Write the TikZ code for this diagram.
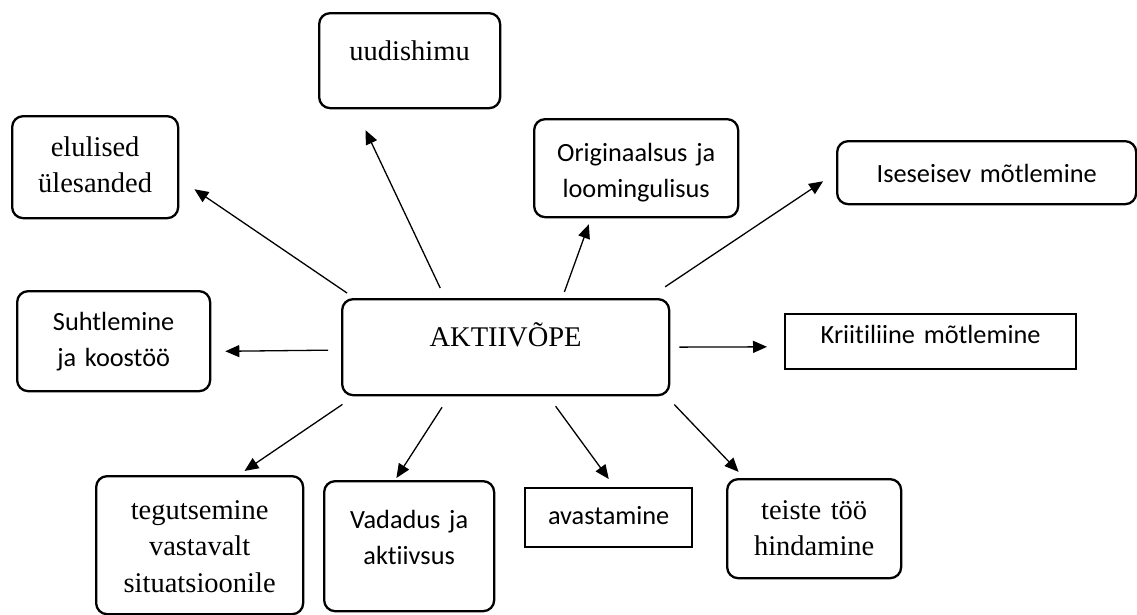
\documentclass[tikz,border=0pt]{standalone}
\usepackage{fontspec}
\setmainfont{Liberation Serif}
\newfontfamily\carlito[Ligatures=NoCommon]{Carlito}
\usetikzlibrary{arrows.meta}

\tikzset{
  pbox/.style={draw, line width=2.3pt, rounded corners=11pt, inner sep=0pt, align=center, anchor=north west},
  rbox/.style={draw, line width=2.3pt, inner sep=0pt, align=center, anchor=north west},
  tnr/.style={font=\fontsize{28.5}{36.5}\selectfont},
  cal/.style={font=\carlito\fontsize{26.3}{36.5}\selectfont},
  sz/.style n args={3}{text width=#1pt, text height=#2pt, text depth=#3pt},
  arr/.style={line width=1.3pt, -{Triangle[length=14pt,width=12pt]}}
}

\begin{document}
\begin{tikzpicture}[x=1pt, y=-1pt]
			%%%%% START %%%%%
			\useasboundingbox (0,0) rectangle (1137,614);
			
			\node[pbox, tnr, sz={327}{47}{49}] (main) at (341,298) {AKTIIVÕPE};
			
			\node[pbox, tnr, sz={181}{47}{48}] (uudi) at (318,12) {uudishimu};
			\node[pbox, tnr, sz={166}{40}{62}] (elul) at (11,115) {elulised\\ülesanded};
			\node[pbox, cal, sz={193}{39}{61}] (suht) at (16,290) {Suhtlemine\\ja koostöö};
			\node[pbox, cal, sz={204}{42}{56}] (orig) at (533,118) {Originaalsus ja\\loomingulisus};
			\node[pbox, cal, sz={299}{41}{22}] (isei) at (836,140) {Iseseisev mõtlemine};
			\node[rbox, cal, sz={291}{29}{26}] (krit) at (784,313) {Kriitiliine mõtlemine};
			
			\node[pbox, tnr, sz={207}{43}{95}] (tegu) at (95,475) {tegutsemine\\vastavalt\\situatsioonile};
			\node[pbox, cal, sz={170}{47}{83}] (vada) at (323,480) {Vadadus ja\\aktiivsus};
			\node[rbox, cal, sz={167}{36}{23}] (avas) at (524,487) {avastamine};
			\node[pbox, tnr, sz={174}{40}{59}] (teis) at (726,478) {teiste töö\\hindamine};
			
			% upper arrows
			\draw[arr, shorten <=8.8pt, shorten >=18.3pt] (main.162.8) -- (elul.-8.6);
			\draw[arr, shorten <=11pt, shorten >=23.1pt] (main.141.8) -- (uudi.-138.2);
			\draw[arr, shorten <=6.4pt, shorten >=6.4pt] (main.41) -- (orig.-132.4);
			\draw[arr, shorten <=20.1pt, shorten >=15.5pt] (main.19) -- (isei.180.4);
			
			% side arrows
			\draw[arr, shorten <=13pt, shorten >=14pt] (main.181.75) -- (suht.-6.5);
			\draw[arr, shorten <=9pt, shorten >=17pt] (main.-0.35) -- (krit.182.56);
			
			% lower arrows
			\draw[arr, shorten <=14.4pt, shorten >=7.2pt] (main.-162) -- (tegu.61.5);
			\draw[arr, shorten <=13.1pt, shorten >=2.4pt] (main.-139.1) -- (vada.102.4);
			\draw[arr, shorten <=12.3pt, shorten >=9.9pt] (main.-49.3) -- (avas.79.8);
			\draw[arr, shorten <=11.4pt, shorten >=8.5pt] (main.-17.4) -- (teis.144.7);
			
			%%%%% END %%%%%
\end{tikzpicture}
\end{document}
